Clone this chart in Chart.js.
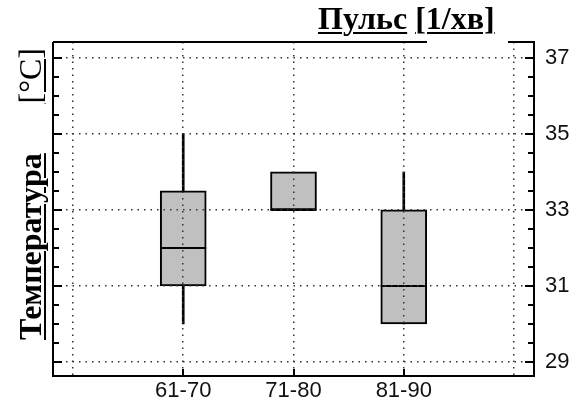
<!DOCTYPE html>
<html>
<head>
<meta charset="utf-8">
<script src="https://cdn.jsdelivr.net/npm/chart.js@4/dist/chart.umd.min.js"></script>
<style>
  html, body { margin: 0; padding: 0; background: #fff; }
  #wrap { position: relative; width: 580px; height: 405px; overflow: hidden; }
  #chart { position: absolute; left: 0; top: 0; }
  .ttl { position: absolute; font-family: "Liberation Serif", "Times New Roman", serif; font-size: 32px; color: #000; white-space: nowrap; }
  .ttl u { text-decoration-thickness: 2px; text-underline-offset: 3px; }
  #topTitle { left: 318px; top: 2px; line-height: 32px; font-weight: bold; }
  #sideTitle { left: -113px; top: 174px; width: 292px; height: 40px; line-height: 35px;
    transform: rotate(-90deg); display: flex; justify-content: space-between; }
</style>
</head>
<body>
<div id="wrap">
  <canvas id="chart" width="580" height="405"></canvas>
  <div class="ttl" id="topTitle"><u>Пульс</u> <u>[1/хв]</u></div>
  <div class="ttl" id="sideTitle"><b><u>Температура</u></b><u>[°C]</u></div>
</div>
<script>
// categories and where they sit on the x axis
const categories = ['61-70', '71-80', '81-90']
const catPos = [1, 2, 3]
const xGrid = [0, 1, 2, 3, 4]

// box plot values
const whiskerLow = [30, 33, 30]
const whiskerHigh = [35, 34, 34]
const boxLow = [31, 33, 30]
const boxHigh = [33.5, 34, 33]
const medians = [32, 33, 31]

// y tick labels
const yTicks = [29, 31, 33, 35, 37]

const gridColor = '#333'
const boxFill = '#c0c0c0'

// frame and inward tick marks, drawn on top of everything
const framePlugin = {
  id: 'frame',
  afterDraw(chart) {
    const {ctx, chartArea: a, scales: {x, y}} = chart
    ctx.save()
    ctx.strokeStyle = '#000'
    ctx.lineWidth = 2
    ctx.beginPath()
    // top line is broken under the title
    ctx.moveTo(a.left, a.top)
    ctx.lineTo(427, a.top)
    ctx.moveTo(508, a.top)
    ctx.lineTo(a.right, a.top)
    ctx.lineTo(a.right, a.bottom)
    ctx.lineTo(a.left, a.bottom)
    ctx.lineTo(a.left, a.top)
    ctx.stroke()

    ctx.beginPath()
    for (let v = Math.ceil(y.min * 2) / 2; v <= y.max; v += 0.5) {
      const py = Math.round(y.getPixelForValue(v))
      const len = yTicks.includes(v) ? 9 : 6
      ctx.moveTo(a.left, py)
      ctx.lineTo(a.left + len, py)
      ctx.moveTo(a.right, py)
      ctx.lineTo(a.right - len, py)
    }
    catPos.forEach(v => {
      const px = Math.round(x.getPixelForValue(v))
      ctx.moveTo(px, a.bottom)
      ctx.lineTo(px, a.bottom - 7)
    })
    ctx.stroke()
    ctx.restore()
  }
}

new Chart(document.getElementById('chart'), {
  type: 'bar',
  data: {
    datasets: [
      {
        type: 'line',
        label: 'median',
        data: catPos.map((x, i) => ({x: x, y: medians[i]})),
        showLine: false,
        pointStyle: 'line',
        pointRadius: 23,
        pointBorderWidth: 2,
        borderColor: '#000',
        order: 1
      },
      {
        label: 'box',
        data: catPos.map((x, i) => ({x: x, y: [boxLow[i], boxHigh[i]]})),
        backgroundColor: boxFill,
        borderColor: '#000',
        borderWidth: 2,
        borderSkipped: false,
        barThickness: 46,
        grouped: false,
        order: 2
      },
      {
        label: 'whisker',
        data: catPos.map((x, i) => ({x: x, y: [whiskerLow[i], whiskerHigh[i]]})),
        backgroundColor: '#000',
        borderWidth: 0,
        barThickness: 2,
        grouped: false,
        order: 3
      }
    ]
  },
  options: {
    responsive: false,
    animation: false,
    events: [],
    layout: {padding: {left: 53, top: 42, right: 0, bottom: 0}},
    plugins: {
      legend: {display: false},
      tooltip: {enabled: false},
      title: {display: false}
    },
    scales: {
      x: {
        type: 'linear',
        min: -0.181,
        max: 4.181,
        offset: false,
        afterBuildTicks: s => { s.ticks = xGrid.map(v => ({value: v})) },
        afterFit: s => { s.height = 29 },
        grid: {color: gridColor, lineWidth: 1.5, drawTicks: false, offset: false, z: 1},
        border: {display: false, dash: [1.5, 5]},
        ticks: {
          padding: 2,
          color: '#111',
          font: {family: 'Liberation Sans', size: 22},
          callback: v => categories[catPos.indexOf(v)] || ''
        }
      },
      y: {
        position: 'right',
        min: 28.63,
        max: 37.42,
        afterBuildTicks: s => { s.ticks = yTicks.map(v => ({value: v})) },
        afterFit: s => { s.width = 46 },
        grid: {color: gridColor, lineWidth: 1.5, drawTicks: false, z: 1},
        border: {display: false, dash: [1.5, 5]},
        ticks: {
          padding: 11,
          color: '#111',
          font: {family: 'Liberation Sans', size: 22}
        }
      }
    }
  },
  plugins: [framePlugin]
})
</script>
</body>
</html>
